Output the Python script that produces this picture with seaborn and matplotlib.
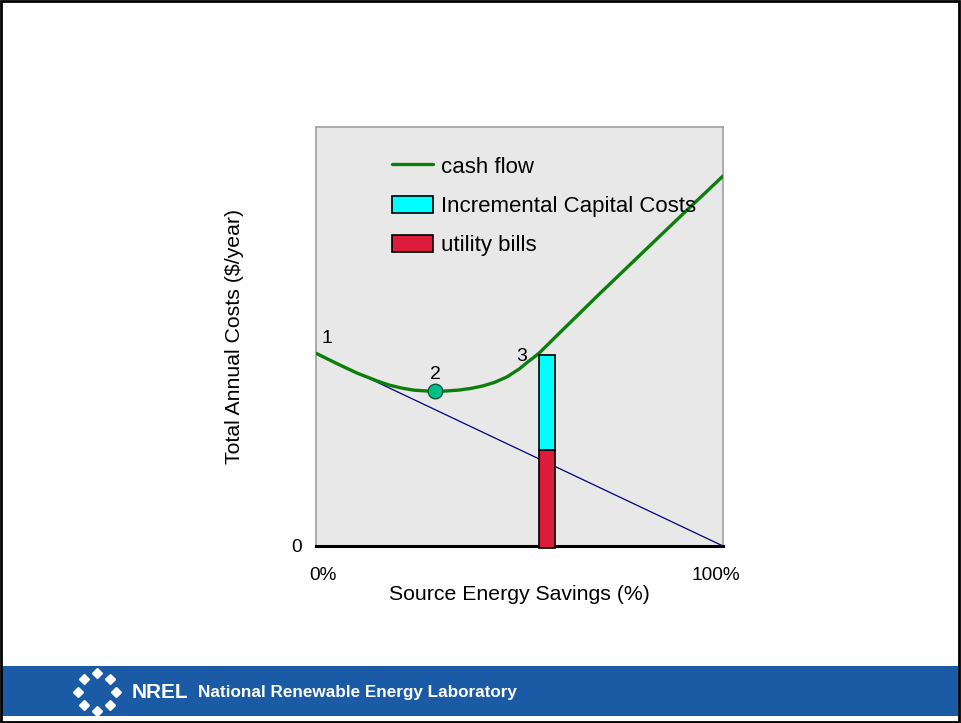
import numpy as np
import pandas as pd
import seaborn as sns
import matplotlib.pyplot as plt
from matplotlib.patches import Patch, Rectangle
from matplotlib.lines import Line2D

# data (x = source energy savings %, y = annual cost, arbitrary units)
savings = [0, 5, 10, 15, 18, 21, 24, 27, 29.3, 32, 35, 38, 41, 44, 47, 50, 52, 53.5, 55,
           60, 70, 80, 90, 100]
cash_flow = [46, 43.6, 41.3, 39.4, 38.4, 37.7, 37.2, 37.0, 36.9, 37.0, 37.2, 37.6, 38.2,
             39.1, 40.4, 42.3, 43.9, 45.0, 46.2, 51.0, 60.5, 69.8, 79.1, 88.3]
bills_x = [0, 100]
bills_y = [46, 0]
opt_point = (29.3, 36.9)
bar_x = 56.7
bar_width = 3.9
bar_bills = 23.3
bar_capital = 22.9
bar_base = -0.5
point_labels = ["1", "2", "3"]
point_label_xy = [(2.6, 49.5), (29.3, 41.0), (50.5, 45.2)]

sns.set_style("white")
plt.rcParams['font.family'] = ['Liberation Sans', 'DejaVu Sans']
plt.rcParams['text.color'] = 'black'
plt.rcParams['axes.labelcolor'] = 'black'
plt.rcParams['xtick.color'] = 'black'
plt.rcParams['ytick.color'] = 'black'

fig = plt.figure(figsize=(9.61, 7.23), dpi=100)
ax = fig.add_axes([316/961, 1-546/723, 407/961, 419/723])
ax.set_facecolor('#e8e8e8')

df = pd.DataFrame({'x': savings, 'y': cash_flow})
sns.lineplot(x=bills_x, y=bills_y, ax=ax, color='#000080', linewidth=0.9)
sns.lineplot(data=df, x='x', y='y', ax=ax, color='#0a800a', linewidth=2.4, zorder=4)

ax.bar([bar_x], [bar_bills], width=bar_width, bottom=bar_base, color='#dc1c3c',
       edgecolor='black', linewidth=1.2, clip_on=False, zorder=5)
ax.bar([bar_x], [bar_capital], width=bar_width, bottom=bar_base + bar_bills, color='#00ffff',
       edgecolor='black', linewidth=1.2, clip_on=False, zorder=5)

ax.plot(*opt_point, 'o', ms=10.5, mfc='#00c08a', mec='#0b5a3a', mew=1, zorder=6)
for lab, (px, py) in zip(point_labels, point_label_xy):
    ax.text(px, py, lab, fontsize=14, ha='center', va='center')

ax.set_xlim(0, 100)
ax.set_ylim(0, 100)
ax.set_xticks([1.7, 98.3])
ax.set_xticklabels(['0%', '100%'], fontsize=13.7)
ax.set_yticks([0])
ax.set_yticklabels(['0'], fontsize=13.7)
ax.tick_params(axis='x', length=0, pad=15)
ax.tick_params(axis='y', length=0, pad=10)
ax.set_xlabel('Source Energy Savings (%)', fontsize=15.3, labelpad=1)
ax.set_ylabel('Total Annual Costs ($/year)', fontsize=15.3, labelpad=34)

for side in ['left', 'top', 'right']:
    ax.spines[side].set_color('#a0a0a0')
    ax.spines[side].set_linewidth(1.2)
ax.spines['bottom'].set_color('black')
ax.spines['bottom'].set_linewidth(2.2)

handles = [Line2D([], [], color='#0a800a', linewidth=2.4),
           Patch(facecolor='#00ffff', edgecolor='black', linewidth=1.2),
           Patch(facecolor='#dc1c3c', edgecolor='black', linewidth=1.2)]
ax.legend(handles, ['cash flow', 'Incremental Capital Costs', 'utility bills'],
          loc='upper left', bbox_to_anchor=(0.187, 0.93), frameon=False, fontsize=16,
          handlelength=1.85, handleheight=0.8, handletextpad=0.35, labelspacing=0.82,
          borderpad=0, borderaxespad=0)

# footer band
fig.patches.append(Rectangle((2/961, 1-716/723), 956/961, 50/723, transform=fig.transFigure,
                             facecolor='#1b5aa5', edgecolor='none'))
fig.text(132/961, 1-692/723, 'NREL', color='white', fontsize=15, fontweight='bold',
         va='center')
fig.text(198/961, 1-692/723, 'National Renewable Energy Laboratory', color='white',
         fontsize=12.3, fontweight='bold', va='center')
ang = np.linspace(0, 2*np.pi, 8, endpoint=False)
fig.add_artist(Line2D((97 + 19*np.cos(ang))/961, 1 - (692 + 19*np.sin(ang))/723,
                      linestyle='none', marker='D', ms=5, mfc='white', mec='white',
                      transform=fig.transFigure))

# outer frame
fig.patches.append(Rectangle((0.001, 0.002), 0.997, 0.996, transform=fig.transFigure,
                             facecolor='none', edgecolor='black', linewidth=2))

fig.savefig('out.png', dpi=100)
